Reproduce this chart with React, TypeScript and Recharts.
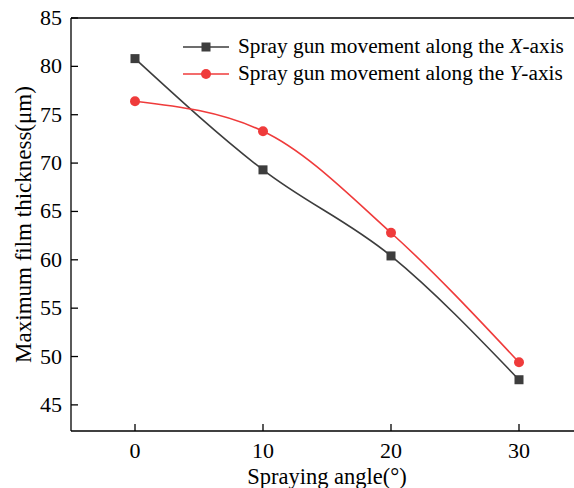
import { Line, LineChart, XAxis, YAxis } from "recharts";

const angles = [0, 10, 20, 30];
const alongX = [80.8, 69.3, 60.4, 47.6];
const alongY = [76.4, 73.3, 62.8, 49.4];
const yTicks = [45, 50, 55, 60, 65, 70, 75, 80, 85];
const xTicks = [0, 10, 20, 30];

const data = angles.map((a, i) => ({ angle: a, x: alongX[i], y: alongY[i] }));

const GREY = "#3d3d3d";
const RED = "#ef3b3b";
const FONT = "'Liberation Serif', 'Times New Roman', serif";

const SquareDot = (props: any) => {
  const { cx, cy, index } = props;
  return <rect key={index} x={cx - 4.5} y={cy - 4.5} width={9} height={9} fill={GREY} />;
};

// ticks point into the plot on both axes
const XTick = (props: any) => {
  const { x, y, payload } = props;
  return (
    <g>
      <line x1={x} x2={x} y1={y - 4} y2={y - 11} stroke="#000" strokeWidth={1.3} />
      <text x={x} y={y} dy={23} textAnchor="middle" fontSize={22} fontFamily={FONT} fill="#000">
        {payload.value}
      </text>
    </g>
  );
};

const YTick = (props: any) => {
  const { x, y, payload } = props;
  return (
    <g>
      <line x1={x + 9} x2={x + 16} y1={y} y2={y} stroke="#000" strokeWidth={1.3} />
      <text x={x} y={y} dy={7} textAnchor="end" fontSize={22} fontFamily={FONT} fill="#000">
        {payload.value}
      </text>
    </g>
  );
};

const LegendBox = () => (
  <div style={{ position: "absolute", top: 33, left: 183, fontFamily: FONT, fontSize: 21.3, color: "#000", lineHeight: "27px" }}>
    {[
      { c: GREY, axis: "X", sq: true },
      { c: RED, axis: "Y", sq: false },
    ].map((r) => (
      <div key={r.axis} style={{ display: "flex", alignItems: "center", whiteSpace: "nowrap" }}>
        <svg width={46} height={12} style={{ marginRight: 9 }}>
          <line x1={0} x2={46} y1={6} y2={6} stroke={r.c} strokeWidth={1.6} />
          {r.sq ? (
            <rect x={18.5} y={1.5} width={9} height={9} fill={r.c} />
          ) : (
            <circle cx={23} cy={6} r={5} fill={r.c} />
          )}
        </svg>
        <span>
          Spray gun movement along the <i>{r.axis}</i>-axis
        </span>
      </div>
    ))}
  </div>
);

export default function App() {
  return (
    <div style={{ position: "absolute", left: 0, top: 0, width: 574, height: 488, overflow: "hidden", background: "#fff" }}>
      <LineChart width={590} height={488} data={data} margin={{ top: 17, right: 7, left: 70, bottom: 56 }}>
        <XAxis
          dataKey="angle"
          type="number"
          domain={[-5, 35]}
          ticks={xTicks}
          height={1}
          tickSize={0}
          tickMargin={4}
          tickLine={false}
          tick={<XTick />}
          axisLine={{ stroke: "#000", strokeWidth: 1.3 }}
          label={{ value: "Spraying angle(°)", position: "bottom", offset: 36, fontSize: 22.5, fontFamily: FONT, fill: "#000" }}
        />
        <XAxis xAxisId="top" orientation="top" dataKey="angle" type="number" domain={[-5, 35]} height={1} tick={false} tickLine={false} axisLine={{ stroke: "#000", strokeWidth: 1.3 }} />
        <YAxis
          type="number"
          domain={[42.3, 85]}
          ticks={yTicks}
          width={1}
          tickSize={0}
          tickMargin={9}
          tickLine={false}
          tick={<YTick />}
          axisLine={{ stroke: "#000", strokeWidth: 1.3 }}
          label={{ value: "Maximum film thickness(μm)", angle: -90, position: "left", offset: 47, fontSize: 23, fontFamily: FONT, fill: "#000", style: { textAnchor: "middle" } }}
        />
        <Line dataKey="x" type="monotone" stroke={GREY} strokeWidth={1.6} dot={<SquareDot />} isAnimationActive={false} />
        <Line dataKey="y" type="monotone" stroke={RED} strokeWidth={1.6} dot={{ r: 5, fill: RED, stroke: RED, strokeWidth: 0 }} isAnimationActive={false} />
      </LineChart>
      <LegendBox />
    </div>
  );
}
